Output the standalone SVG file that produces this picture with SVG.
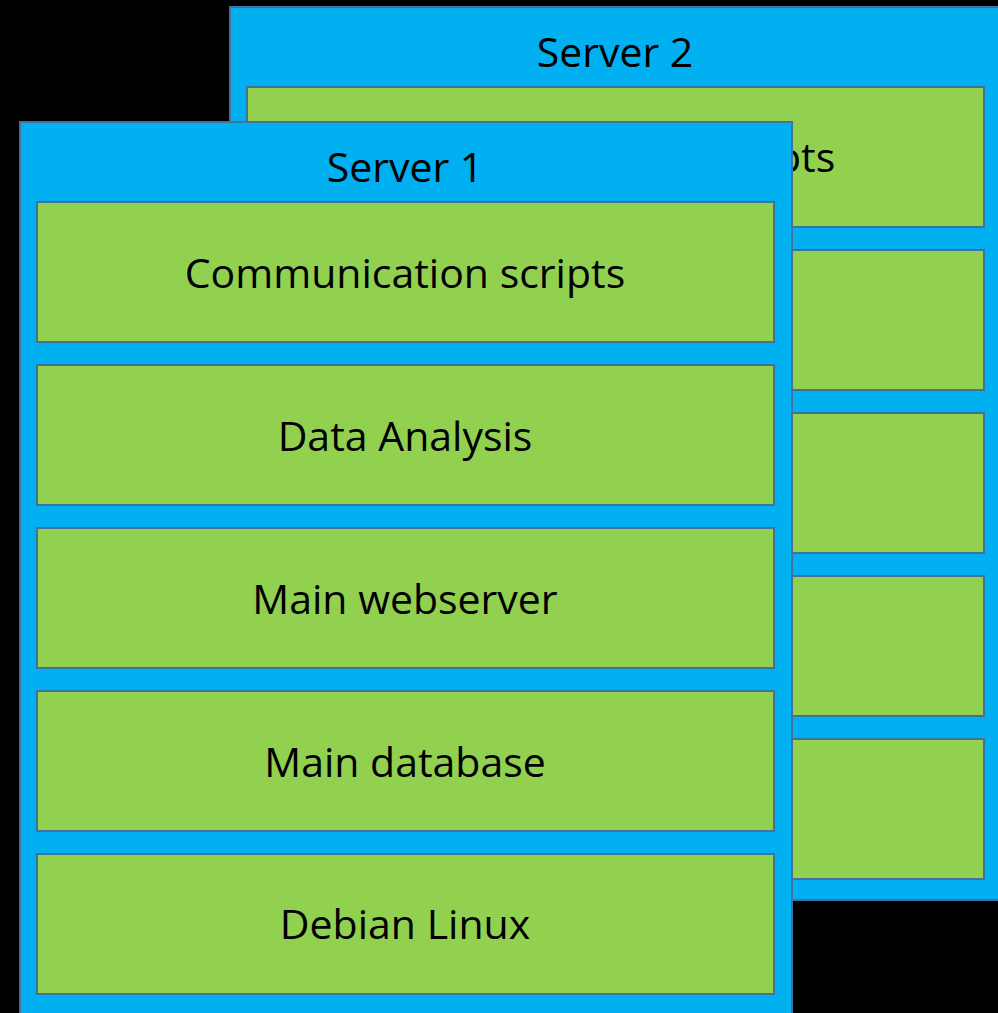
<svg xmlns="http://www.w3.org/2000/svg" width="998" height="1013" viewBox="0 0 998 1013">
<style>
.srv{fill:#00B0F0;stroke:#41719C;stroke-width:2}
.lay{fill:#92D050;stroke:#41719C;stroke-width:2}
text{font-family:"Open Sans","Liberation Sans",sans-serif;font-size:41px;fill:#000;text-anchor:middle}
</style>
<rect x="0" y="0" width="998" height="1013" fill="#000"/>
<g id="server2">
<rect class="srv" x="230" y="7" width="773" height="893"/>
<text x="615" y="67">Server 2</text>
<g id="s2-comm"><rect class="lay" x="247" y="87" width="737" height="140"/><text x="615" y="172">Communication scripts</text></g>
<g id="s2-data"><rect class="lay" x="247" y="250" width="737" height="140"/></g>
<g id="s2-web"><rect class="lay" x="247" y="413" width="737" height="140"/></g>
<g id="s2-db"><rect class="lay" x="247" y="576" width="737" height="140"/></g>
<g id="s2-os"><rect class="lay" x="247" y="739" width="737" height="140"/></g>
</g>
<g id="server1">
<rect class="srv" x="20" y="122" width="772" height="900"/>
<text x="405" y="182">Server 1</text>
<g id="s1-comm"><rect class="lay" x="37" y="202" width="737" height="140"/><text x="405" y="288">Communication scripts</text></g>
<g id="s1-data"><rect class="lay" x="37" y="365" width="737" height="140"/><text x="405" y="451">Data Analysis</text></g>
<g id="s1-web"><rect class="lay" x="37" y="528" width="737" height="140"/><text x="405" y="614">Main webserver</text></g>
<g id="s1-db"><rect class="lay" x="37" y="691" width="737" height="140"/><text x="405" y="777">Main database</text></g>
<g id="s1-os"><rect class="lay" x="37" y="854" width="737" height="140"/><text x="405" y="939">Debian Linux</text></g>
</g>
<g id="connectors"/>
</svg>
